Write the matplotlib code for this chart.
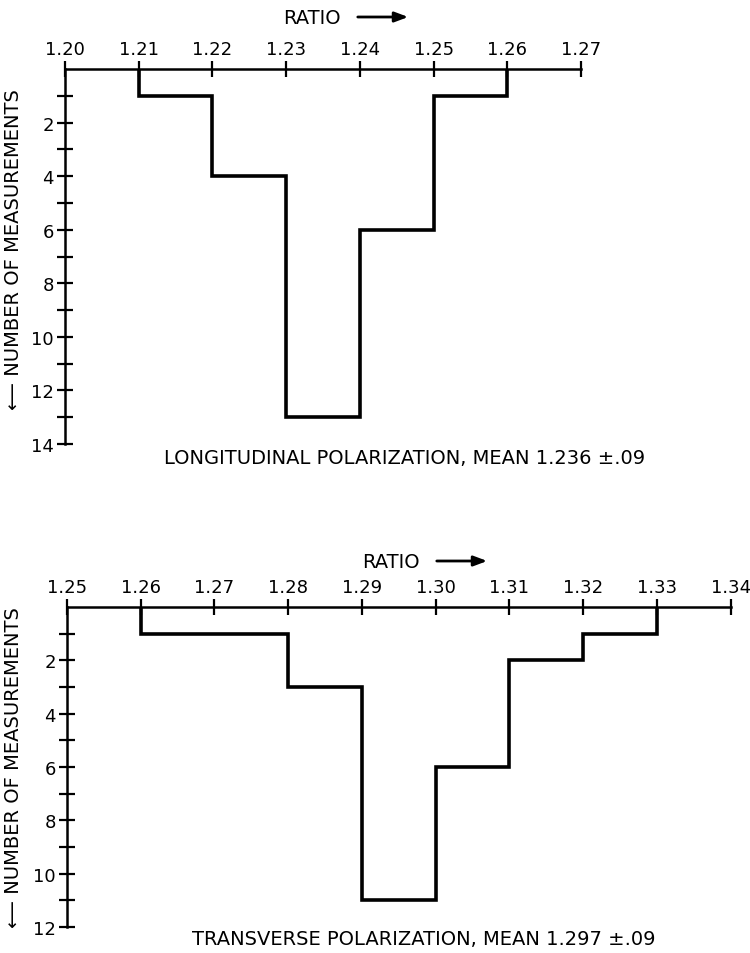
import numpy as np
import matplotlib.pyplot as plt

# longitudinal polarization
long_edges = [1.21, 1.22, 1.23, 1.24, 1.25, 1.26]
long_counts = [1, 4, 13, 6, 1]
long_ticks = [1.20, 1.21, 1.22, 1.23, 1.24, 1.25, 1.26, 1.27]
long_title = "LONGITUDINAL POLARIZATION, MEAN 1.236 \u00b1.09"

# transverse polarization
trans_edges = [1.26, 1.28, 1.29, 1.30, 1.31, 1.32, 1.33]
trans_counts = [1, 3, 11, 6, 2, 1]
trans_ticks = [1.25, 1.26, 1.27, 1.28, 1.29, 1.30, 1.31, 1.32, 1.33, 1.34]
trans_title = "TRANSVERSE POLARIZATION, MEAN 1.297 \u00b1.09"

plt.rcParams['font.family'] = ['DejaVu Sans']


def panel(ax, edges, counts, xticks, ymax, title, title_x, title_y, ratio_x, ratio_y):
    ax.stairs(counts, edges, baseline=0, fill=False, color='black', linewidth=2.6)
    ax.set_xlim(xticks[0], xticks[-1])
    ax.set_ylim(ymax, 0)
    ax.xaxis.tick_top()
    ax.set_xticks(xticks)
    ax.set_xticklabels(["%.2f" % t for t in xticks])
    ax.set_yticks(np.arange(1, ymax + 1))
    ax.set_yticklabels([str(v) if v % 2 == 0 else "" for v in range(1, ymax + 1)])
    ax.tick_params(direction='inout', length=12, width=1.6, labelsize=13, pad=2)
    for s in ['right', 'bottom']:
        ax.spines[s].set_visible(False)
    for s in ['top', 'left']:
        ax.spines[s].set_linewidth(1.8)
    ax.set_facecolor('none')
    fig.text(title_x, title_y, title, ha='center', va='center', fontsize=14)
    # "RATIO" with an arrow pointing right
    fig.text(ratio_x, ratio_y, "RATIO", ha='left', va='center', fontsize=14)
    ax.annotate("", xy=(ratio_x + 128 / 750, ratio_y), xytext=(ratio_x + 72 / 750, ratio_y),
                xycoords='figure fraction',
                arrowprops=dict(arrowstyle='-|>,head_length=0.8,head_width=0.3',
                                color='black', lw=2.0))
    ax.set_ylabel("\u27f5 NUMBER OF MEASUREMENTS", fontsize=14)


fig = plt.figure(figsize=(7.5, 9.54), dpi=100)

ax1 = fig.add_axes([0.0867, 0.5335, 0.688, 0.3931])
panel(ax1, long_edges, long_counts, long_ticks, 14, long_title,
      0.54, 1 - 458 / 954, 283 / 750, 1 - 18 / 954)
ax1.yaxis.set_label_coords(-0.081, 0.52)

ax2 = fig.add_axes([0.0893, 0.0273, 0.885, 0.3354])
panel(ax2, trans_edges, trans_counts, trans_ticks, 12, trans_title,
      0.565, 1 - 940 / 954, 362 / 750, 1 - 562 / 954)
ax2.yaxis.set_label_coords(-0.066, 0.5)

fig.savefig("out.png", dpi=100)
